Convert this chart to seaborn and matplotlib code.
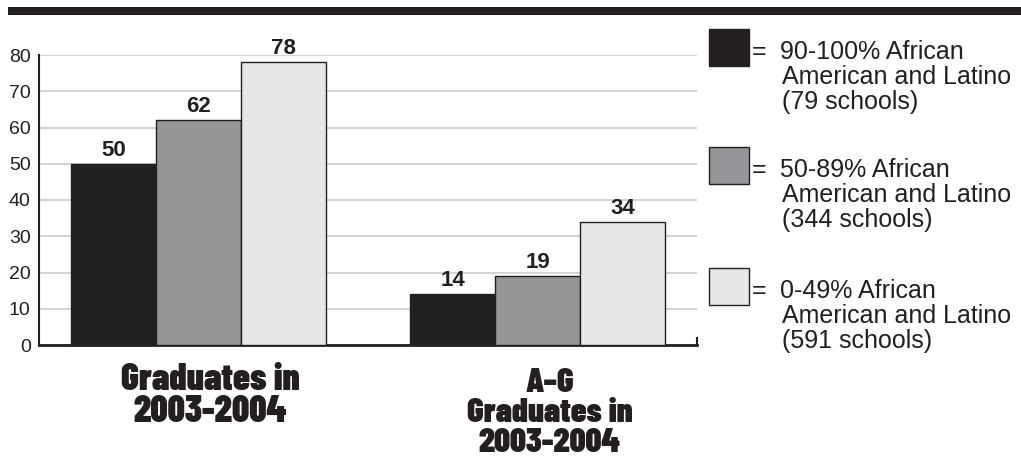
import pandas as pd
import matplotlib.pyplot as plt
import matplotlib.transforms as mtransforms
import seaborn as sns
from matplotlib.patches import Rectangle

# --- DATA ---
categories = ["Graduates in\n2003-2004", "A–G\nGraduates in\n2003-2004"]
groups = ["90-100%", "50-89%", "0-49%"]
group_schools = [79, 344, 591]
values_90_100 = [50, 14]
values_50_89 = [62, 19]
values_0_49 = [78, 34]
colors = ["#231f20", "#939598", "#e6e7e8"]
yticks = [0, 10, 20, 30, 40, 50, 60, 70, 80]

df = pd.DataFrame({
    "category": categories * 3,
    "group": [g for g in groups for _ in categories],
    "value": values_90_100 + values_50_89 + values_0_49,
})

# --- STYLE ---
sns.set_style("white")
plt.rcParams['font.family'] = ['Liberation Sans', 'DejaVu Sans']
dark = "#231f20"

fig = plt.figure(figsize=(10.21, 4.59), dpi=100)
ax = fig.add_axes([39 / 1021, 1 - 345 / 459, (697 - 39) / 1021, (345 - 55) / 459])

sns.barplot(data=df, x="category", y="value", hue="group", hue_order=groups,
            palette=colors, width=0.75, edgecolor=dark, linewidth=1,
            legend=False, ax=ax, zorder=3)

for cont in ax.containers:
    ax.bar_label(cont, fmt="%d", padding=2, fontsize=16, fontweight="bold", color=dark)

ax.set_ylim(0, 80)
ax.set_xlim(-0.47, 1.47)
ax.set_yticks(yticks)
ax.yaxis.grid(True, color="#d4d4d4", linewidth=1.5, zorder=0)
ax.set_axisbelow(True)
ax.set_xlabel("")
ax.set_ylabel("")

ax.spines["top"].set_visible(False)
ax.spines["left"].set_color(dark)
ax.spines["left"].set_linewidth(1.5)
ax.spines["bottom"].set_color(dark)
ax.spines["bottom"].set_linewidth(2)
ax.spines["right"].set_color(dark)
ax.spines["right"].set_linewidth(1.5)
ax.spines["right"].set_bounds(0, 2)

ax.tick_params(axis="y", direction="in", length=5, width=1.5, color=dark,
               labelsize=14, labelcolor=dark, pad=6)
ax.tick_params(axis="x", length=0, pad=13)

# category labels sit a little right of the group centres, second one smaller
label_sizes = [27, 25]
label_spacing = [0.93, 1.0]
label_drop = [0, 5]  # px
for lbl, size, ls, drop in zip(ax.get_xticklabels(), label_sizes, label_spacing, label_drop):
    lbl.set_fontfamily(['Barlow Condensed', 'DejaVu Sans'])
    lbl.set_fontweight(900)
    lbl.set_fontsize(size)
    lbl.set_linespacing(ls)
    lbl.set_color(dark)
    shift = mtransforms.ScaledTranslation(12 / 100, -drop / 100, fig.dpi_scale_trans)
    lbl.set_transform(lbl.get_transform() + shift)

# --- top band ---
fig.add_artist(Rectangle((8 / 1021, 1 - 15 / 459), 1 - 8 / 1021, 8 / 459,
                         transform=fig.transFigure, color=dark, lw=0))

# --- legend ---
W, H = 1021, 459
box_tops = [29, 147, 268]
for i, g in enumerate(groups):
    top = box_tops[i]
    fig.add_artist(Rectangle((709 / W, 1 - (top + 37) / H), 40 / W, 37 / H,
                             transform=fig.transFigure, facecolor=colors[i],
                             edgecolor=dark, lw=1))
    base = top + 30
    fig.text(752 / W, 1 - base / H, "=", fontsize=18, color=dark, va="baseline")
    lines = [f"{g} African", "American and Latino", f"({group_schools[i]} schools)"]
    for j, line in enumerate(lines):
        x = 780 if j == 0 else 782
        fig.text(x / W, 1 - (base + 25 * j) / H, line, fontsize=18, color=dark,
                 va="baseline")

fig.savefig("out.png", dpi=100)
